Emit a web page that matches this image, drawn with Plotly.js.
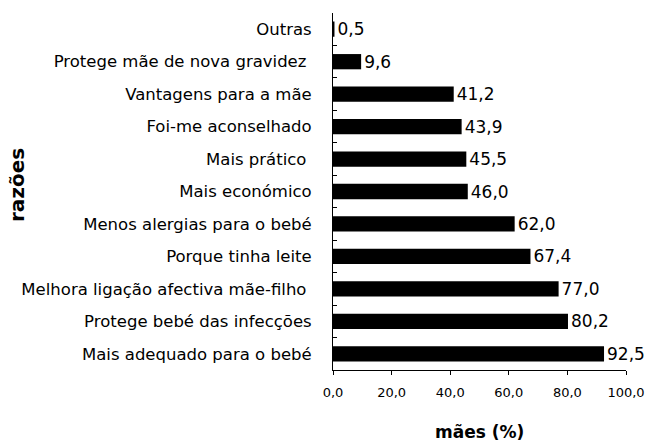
<!DOCTYPE html>
<html><head><meta charset="utf-8">
<script src="https://cdn.plot.ly/plotly-3.0.1.min.js"></script>
<style>body{margin:0;background:#fff}#c{width:652px;height:441px}</style>
</head><body><div id="c"></div>
<script>
var categories = ["Outras","Protege mãe de nova gravidez ","Vantagens para a mãe","Foi-me aconselhado","Mais prático ","Mais económico","Menos alergias para o bebé","Porque tinha leite","Melhora ligação afectiva mãe-filho ","Protege bebé das infecções","Mais adequado para o bebé"];
var values = [0.5,9.6,41.2,43.9,45.5,46.0,62.0,67.4,77.0,80.2,92.5];
var xTicks = [0,20,40,60,80,100];

var F = "DejaVu Sans, Arial, sans-serif";
var trace = {
  type:"bar", orientation:"h", x:values, y:categories,
  marker:{color:"#000"}, width:0.47,
  texttemplate:"%{x:.1f}", textposition:"outside", cliponaxis:false, constraintext:"none",
  textfont:{family:F, size:17, color:"#000"},
  hoverinfo:"none"
};
var layout = {
  width:652, height:441,
  margin:{l:333, r:26, t:13, b:71},
  separators:", ",
  paper_bgcolor:"#fff", plot_bgcolor:"#fff",
  showlegend:false,
  font:{family:F, color:"#000"},
  xaxis:{range:[0,100], tickvals:xTicks, tickformat:".1f", showgrid:false, zeroline:false,
    showline:true, linecolor:"#000", linewidth:1, ticks:"outside", ticklen:4, tickcolor:"#000",
    tickfont:{family:F, size:13, color:"#000"}, ticklabelstandoff:6, fixedrange:true},
  yaxis:{autorange:"reversed", type:"category", showgrid:false, zeroline:false,
    showline:true, linecolor:"#000", linewidth:1, ticks:"inside", tickson:"boundaries", ticklen:4, tickcolor:"#000",
    tickfont:{family:F, size:16.5, color:"#000"}, ticklabelstandoff:17, fixedrange:true},
  annotations:[
    {text:"<b>mães (%)</b>", xref:"paper", yref:"paper", x:0.5, y:-0.174, yanchor:"middle", showarrow:false, font:{family:F, size:17, color:"#000"}},
    {text:"<b>razões</b>", xref:"paper", yref:"paper", x:(17-333)/293, y:0.518, xanchor:"center", yanchor:"middle", textangle:-90, showarrow:false, font:{family:F, size:20, color:"#000"}}
  ]
};
Plotly.newPlot("c",[trace],layout,{staticPlot:true});
</script></body></html>
